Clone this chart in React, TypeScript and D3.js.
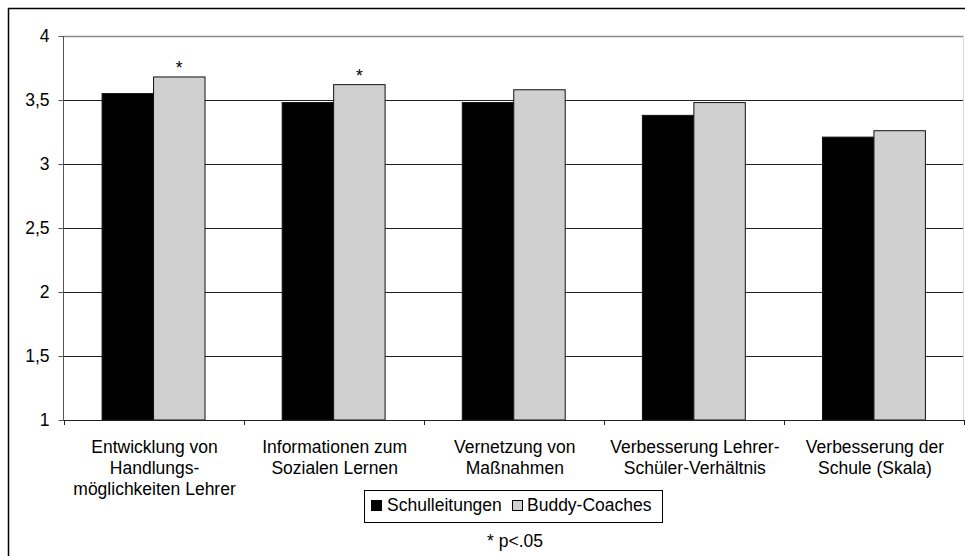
import React from "react";
import * as d3 from "d3";

const categories: string[][] = [
  ["Entwicklung von", "Handlungs-", "möglichkeiten Lehrer"],
  ["Informationen zum", "Sozialen Lernen"],
  ["Vernetzung von", "Maßnahmen"],
  ["Verbesserung Lehrer-", "Schüler-Verhältnis"],
  ["Verbesserung der", "Schule (Skala)"],
];
const seriesNames = ["Schulleitungen", "Buddy-Coaches"];
const schulleitungen = [3.55, 3.48, 3.48, 3.38, 3.21];
const buddyCoaches = [3.68, 3.62, 3.58, 3.48, 3.26];
const significant = [true, true, false, false, false];
const yTicks = [1, 1.5, 2, 2.5, 3, 3.5, 4];
const footnote = "* p<.05";

const W = 965;
const H = 556;
const FONT = "'Liberation Sans', Arial, sans-serif";
const colors = ["#000000", "#d0d0d0"];

export default function App() {
  const left = 63.5;
  const right = 964;
  const top = 36;
  const bottom = 420;
  const keys = categories.map((c) => c.join(" "));
  const x = d3.scaleBand<string>().domain(keys).range([left, right]).padding(0);
  const inner = d3
    .scaleBand<number>()
    .domain([0, 1])
    .range([0, x.bandwidth()])
    .paddingInner(0)
    .paddingOuter(0.75);
  const y = d3.scaleLinear().domain([1, 4]).range([bottom, top]);
  const fmt = (v: number) => String(v).replace(".", ",");
  const series = [schulleitungen, buddyCoaches];
  const fs = 17.5;
  const crisp = (v: number) => Math.round(v) + 0.5;

  return (
    <div style={{ position: "absolute", left: 0, top: 0 }}>
      <svg width={W} height={H} style={{ display: "block" }} fontFamily={FONT}>
        <rect x={0} y={0} width={W} height={H} fill="#fff" />
        {/* outer chart border (cropped at right/bottom) */}
        <line x1={8} x2={W} y1={8.5} y2={8.5} stroke="#000" strokeWidth={1.5} />
        <line x1={8.5} x2={8.5} y1={8} y2={H} stroke="#000" strokeWidth={1.5} />

        {/* gridlines */}
        {yTicks.map((t) =>
          t === 4 ? (
            <line key={t} x1={left} x2={right} y1={crisp(y(t))} y2={crisp(y(t))} stroke="#8c8c8c" strokeWidth={1.5} />
          ) : t === 1 ? null : (
            <line key={t} x1={left} x2={right} y1={crisp(y(t))} y2={crisp(y(t))} stroke="#222" strokeWidth={1} />
          )
        )}
        {/* plot area right border */}
        <line x1={right - 0.5} x2={right - 0.5} y1={top} y2={bottom} stroke="#d8d8d8" strokeWidth={1} />

        {/* bars */}
        {keys.map((k, i) => (
          <g key={k}>
            {series.map((s, j) => {
              const bx = (x(k) as number) + (inner(j) as number);
              const by = y(s[i]);
              return (
                <rect
                  key={j}
                  x={bx}
                  y={by}
                  width={inner.bandwidth()}
                  height={bottom - by}
                  fill={colors[j]}
                  stroke="#111"
                  strokeWidth={1}
                />
              );
            })}
            {significant[i] && (
              <text
                x={(x(k) as number) + (inner(1) as number) + inner.bandwidth() / 2}
                y={y(buddyCoaches[i]) - 3}
                textAnchor="middle"
                fontSize={fs}
                fill="#000"
              >
                *
              </text>
            )}
          </g>
        ))}

        {/* y axis */}
        <line x1={left} x2={left} y1={top} y2={bottom} stroke="#555" strokeWidth={1} />
        {yTicks.map((t) => (
          <g key={t}>
            <line x1={left - 5} x2={left} y1={crisp(y(t))} y2={crisp(y(t))} stroke="#555" />
            <text x={left - 14} y={y(t) + 6} textAnchor="end" fontSize={fs} fill="#000">
              {fmt(t)}
            </text>
          </g>
        ))}

        {/* x axis */}
        <line x1={left} x2={right} y1={bottom + 0.5} y2={bottom + 0.5} stroke="#222" strokeWidth={1} />
        {[...keys.map((k) => x(k) as number), right].map((bx, i) => (
          <line key={i} x1={crisp(bx)} x2={crisp(bx)} y1={bottom} y2={bottom + 5} stroke="#222" />
        ))}
        {categories.map((lines, i) => (
          <text key={i} textAnchor="middle" fontSize={fs} fill="#000">
            {lines.map((ln, li) => (
              <tspan key={li} x={(x(keys[i]) as number) + x.bandwidth() / 2 + 1} y={453 + li * 21}>
                {ln}
              </tspan>
            ))}
          </text>
        ))}

        {/* legend */}
        <rect x={364.5} y={490.5} width={298} height={32} fill="#fff" stroke="#000" strokeWidth={1} />
        <rect x={371.5} y={500.5} width={10} height={10} fill={colors[0]} stroke="#000" />
        <text x={387} y={511} fontSize={fs} fill="#000">{seriesNames[0]}</text>
        <rect x={512.5} y={500.5} width={10} height={10} fill={colors[1]} stroke="#000" />
        <text x={527} y={511} fontSize={fs} fill="#000">{seriesNames[1]}</text>

        {/* footnote */}
        <text x={515} y={547} textAnchor="middle" fontSize={fs} fill="#000">
          {footnote}
        </text>
      </svg>
    </div>
  );
}
